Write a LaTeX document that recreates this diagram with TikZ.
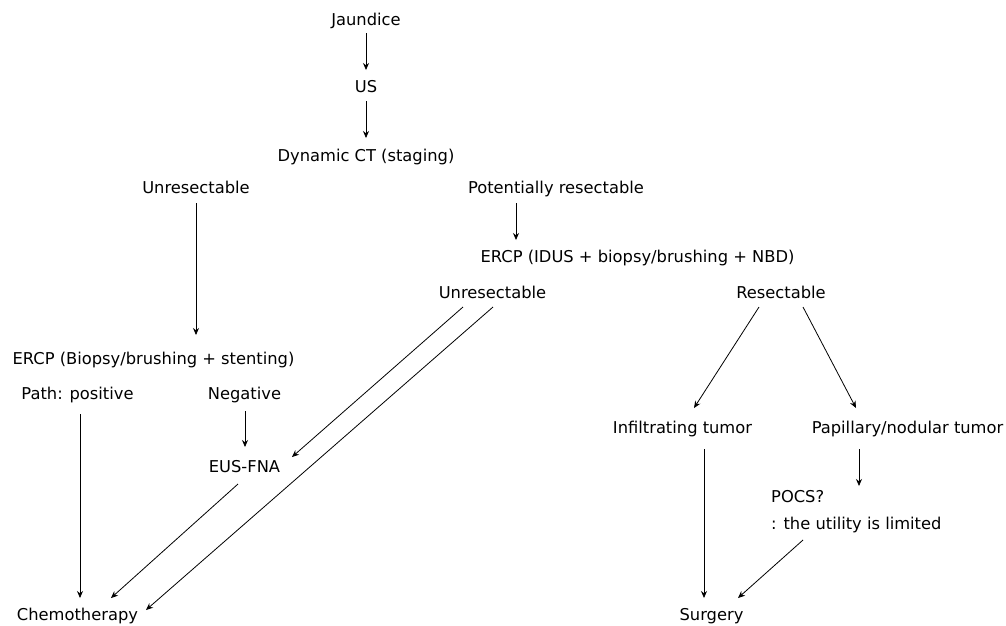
\documentclass[tikz,border=0pt]{standalone}
\usepackage{fontspec}
\setmainfont{DejaVu Sans}
\usetikzlibrary{arrows.meta,calc}
\begin{document}
\begin{tikzpicture}[x=1pt,y=-1pt,
  lbl/.style={inner sep=0pt,anchor=base,font=\fontsize{16.3}{20}\selectfont},
  arr/.style={draw=black,line width=0.8pt,-{Stealth[length=7pt,width=6pt]}}]
\useasboundingbox (0,0) rectangle (1006,625);
\node[lbl] (jaun) at (366,25) {Jaundice};
\node[lbl] (us) at (366,92) {US};
\node[lbl] (dyn) at (366,161) {Dynamic CT (staging)};
\node[lbl] (unresL) at (196,193) {Unresectable};
\node[lbl] (pot) at (556,193) {Potentially resectable};
\node[lbl] (ercpR) at (637.5,262) {ERCP (IDUS + biopsy/brushing + NBD)};
\node[lbl] (unresM) at (492.5,298) {Unresectable};
\node[lbl] (res) at (781,298) {Resectable};
\node[lbl] (ercpL) at (153.5,364) {ERCP (Biopsy/brushing + stenting)};
\node[lbl] (path) at (77.5,399) {Path: positive};
\node[lbl] (neg) at (244.5,399) {Negative};
\node[lbl] (eus) at (244.5,472) {EUS-FNA};
\node[lbl] (inf) at (682.5,433) {Infiltrating tumor};
\node[lbl] (pap) at (907.5,433) {Papillary/nodular tumor};
\node[lbl,anchor=north west,align=left,font=\fontsize{16.3}{27}\selectfont] (pocs) at (771,490) {POCS?\\: the utility is limited};
\node[lbl] (chemo) at (77.5,620) {Chemotherapy};
\node[lbl] (surg) at (711.5,620) {Surgery};

\draw[arr] ($(jaun.base)+(0,8)$) -- ($(us.base)+(0,-22)$);
\draw[arr] ($(us.base)+(0,9)$) -- ($(dyn.base)+(0,-23)$);
\draw[arr] ($(pot.base)+(-40,10)$) -- ($(ercpR.base)+(-121.5,-22)$);
\draw[arr] ($(unresL.base)+(0,10)$) -- ($(ercpL.base)+(42.5,-29)$);
\draw[arr] ($(path.base)+(2.5,15)$) -- ($(chemo.base)+(2.5,-22)$);
\draw[arr] ($(neg.base)+(0.5,12)$) -- ($(eus.base)+(0.5,-25)$);
\draw[arr] ($(unresM.base)+(-29.5,9)$) -- ($(eus.base)+(47.5,-15)$);
\draw[arr] ($(unresM.base)+(0.5,9)$) -- ($(chemo.base)+(68.5,-10)$);
\draw[arr] ($(eus.base)+(-6.5,12)$) -- ($(chemo.base)+(33.5,-22)$);
\draw[arr] ($(res.base)+(-22,9)$) -- ($(inf.base)+(11.5,-25)$);
\draw[arr] ($(res.base)+(22,9)$) -- ($(pap.base)+(-51.5,-25)$);
\draw[arr] ($(inf.base)+(21.5,16)$) -- ($(surg.base)+(-7.5,-22)$);
\draw[arr] ($(pap.base)+(-48.5,16)$) -- ($(pocs.north west)+(88,-4)$);
\draw[arr] ($(pocs.north west)+(32,50)$) -- ($(surg.base)+(26.5,-22)$);
\end{tikzpicture}
\end{document}
